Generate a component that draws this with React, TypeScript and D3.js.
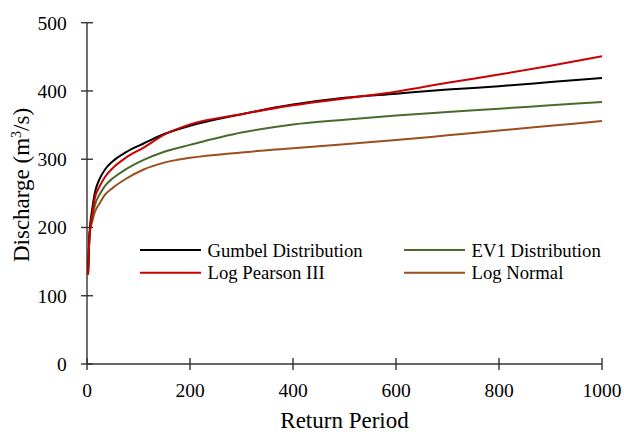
import React, { useEffect, useRef } from 'react';
import * as d3 from 'd3';

// return periods (years) the curves were read at
const returnPeriods = [2, 5, 10, 15, 25, 35, 50, 75, 110, 150, 200, 300, 400, 500, 600, 700, 800, 900, 1000];

const gumbel = [131, 192, 226, 250, 272, 285, 297, 310, 323, 337, 349, 366, 380, 390, 396, 402, 407, 413, 419];
const ev1 = [131, 190, 214, 232, 249, 261, 272, 285, 299, 311, 321, 339, 351, 358, 364, 369, 374, 379, 384];
const logPearson = [131, 188, 218, 242, 261, 274, 287, 302, 317, 336, 351, 366, 379, 389, 399, 412, 424, 437, 451];
const logNormal = [131, 192, 208, 222, 236, 248, 258, 271, 285, 295, 302, 310, 316, 322, 328, 335, 342, 349, 356];

const xTicks = [0, 200, 400, 600, 800, 1000];
const yTicks = [0, 100, 200, 300, 400, 500];

const series = [
  { name: 'Gumbel Distribution', values: gumbel, color: '#000000' },
  { name: 'EV1 Distribution', values: ev1, color: '#4a6b2c' },
  { name: 'Log Pearson III', values: logPearson, color: '#cc0000' },
  { name: 'Log Normal', values: logNormal, color: '#9c4f1e' },
];

const FONT = 'Liberation Serif, Times New Roman, DejaVu Serif, serif';

const App: React.FC = () => {
  const svgRef = useRef<SVGSVGElement>(null);

  useEffect(() => {
    if (!svgRef.current) return;

    const width = 624;
    const height = 432;
    const margin = { top: 22.7, right: 22, bottom: 68, left: 87 };

    const svg = d3.select(svgRef.current);
    svg.selectAll('*').remove();

    const x = d3.scaleLinear().domain([0, 1000]).range([margin.left, width - margin.right]);
    const y = d3.scaleLinear().domain([0, 500]).range([height - margin.bottom, margin.top]);

    const axisColor = '#333333';

    // y axis
    svg.append('line')
      .attr('x1', x(0)).attr('x2', x(0))
      .attr('y1', y(0)).attr('y2', y(500))
      .attr('stroke', axisColor).attr('stroke-width', 1.4);
    svg.selectAll('.ytick')
      .data(yTicks)
      .enter().append('line')
      .attr('x1', x(0) - 6).attr('x2', x(0) + 6)
      .attr('y1', d => y(d)).attr('y2', d => y(d))
      .attr('stroke', axisColor).attr('stroke-width', 1.4);
    svg.selectAll('.ylabel')
      .data(yTicks)
      .enter().append('text')
      .attr('x', 66.7)
      .attr('y', d => y(d) + 6.8)
      .attr('text-anchor', 'end')
      .attr('font-family', FONT)
      .attr('font-size', 19.5)
      .text(d => d);

    // x axis
    svg.append('line')
      .attr('x1', x(0)).attr('x2', x(1000))
      .attr('y1', y(0)).attr('y2', y(0))
      .attr('stroke', axisColor).attr('stroke-width', 1.4);
    svg.selectAll('.xtick')
      .data(xTicks)
      .enter().append('line')
      .attr('x1', d => x(d)).attr('x2', d => x(d))
      .attr('y1', y(0) - 6).attr('y2', y(0) + 6)
      .attr('stroke', axisColor).attr('stroke-width', 1.4);
    svg.selectAll('.xlabel')
      .data(xTicks)
      .enter().append('text')
      .attr('x', d => x(d))
      .attr('y', 396.5)
      .attr('text-anchor', 'middle')
      .attr('font-family', FONT)
      .attr('font-size', 19.5)
      .text(d => d);

    // axis titles
    svg.append('text')
      .attr('x', (x(0) + x(1000)) / 2)
      .attr('y', 428)
      .attr('text-anchor', 'middle')
      .attr('font-family', FONT)
      .attr('font-size', 23)
      .text('Return Period');

    const yTitle = svg.append('text')
      .attr('transform', `translate(29,185) rotate(-90)`)
      .attr('text-anchor', 'middle')
      .attr('font-family', FONT)
      .attr('font-size', 23);
    yTitle.append('tspan').text('Discharge (m');
    yTitle.append('tspan').attr('dy', -8).attr('font-size', 14).text('3');
    yTitle.append('tspan').attr('dy', 8).text('/s)');

    // curves
    const line = d3.line<number>()
      .x((_, i) => x(returnPeriods[i]))
      .y(d => y(d))
      .curve(d3.curveMonotoneX);

    const drawOrder = [series[3], series[1], series[0], series[2]];
    svg.selectAll('.curve')
      .data(drawOrder)
      .enter().append('path')
      .attr('d', d => line(d.values))
      .attr('fill', 'none')
      .attr('stroke', d => d.color)
      .attr('stroke-width', 2);

    // legend
    const legendPos = [
      { lx: 140, ty: 256.7 },
      { lx: 404, ty: 256.7 },
      { lx: 140, ty: 279.4 },
      { lx: 404, ty: 279.4 },
    ];
    const legend = svg.selectAll('.legend')
      .data(series)
      .enter().append('g')
      .attr('transform', (_, i) => `translate(${legendPos[i].lx},${legendPos[i].ty})`);
    legend.append('line')
      .attr('x1', 0).attr('x2', 61)
      .attr('y1', -6.6).attr('y2', -6.6)
      .attr('stroke', d => d.color)
      .attr('stroke-width', 2);
    legend.append('text')
      .attr('x', 67.5)
      .attr('y', 0)
      .attr('font-family', FONT)
      .attr('font-size', 18.7)
      .text(d => d.name);
  }, []);

  return (
    <svg
      ref={svgRef}
      width={624}
      height={432}
      style={{ position: 'absolute', left: 0, top: 0, background: '#fff' }}
    />
  );
};

export default App;
